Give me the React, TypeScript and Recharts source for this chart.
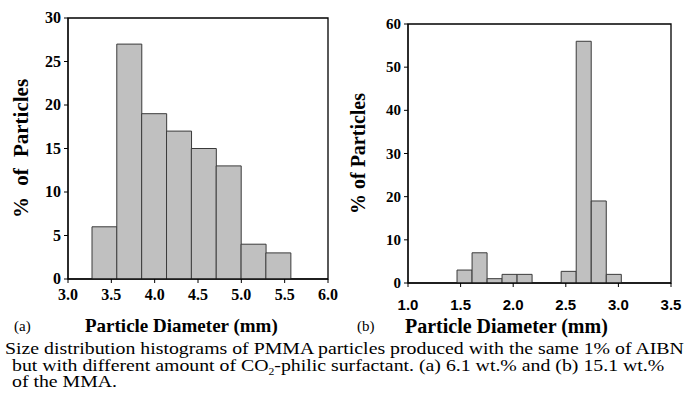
import { Bar, BarChart, ReferenceArea, XAxis, YAxis } from "recharts"

// panel (a): 6.1 wt.% surfactant
const sizesA = [3.42, 3.706, 3.993, 4.28, 4.566, 4.853, 5.14, 5.426]
const percentA = [6, 27, 19, 17, 15, 13, 4, 3]
const xTicksA = [3, 3.5, 4, 4.5, 5, 5.5, 6]
const yTicksA = [0, 5, 10, 15, 20, 25, 30]

// panel (b): 15.1 wt.% surfactant
const sizesB = [1.537, 1.68, 1.823, 1.965, 2.108, 2.527, 2.67, 2.813, 2.956]
const percentB = [3, 7, 1, 2, 2, 2.7, 56, 19, 2]
const xTicksB = [1, 1.5, 2, 2.5, 3, 3.5]
const yTicksB = [0, 10, 20, 30, 40, 50, 60]

const serif = "Liberation Serif"
const sans = "Liberation Sans"

type HistProps = {
  sizes: number[]
  percent: number[]
  xTicks: number[]
  yTicks: number[]
  width: number
  height: number
  margin: { top: number; right: number; left: number; bottom: number }
  yAxisWidth: number
  xAxisHeight: number
  xTickFamily: string
  xTickSize: number
  xTickMargin: number
  yTickSize: number
  yLabelX: number
  yLabelSize: number
  yLabelSpacing: number
}

function Histogram(p: HistProps) {
  const data = p.sizes.map((s, i) => ({ size: s, pct: p.percent[i] }))
  const xMin = p.xTicks[0]
  const xMax = p.xTicks[p.xTicks.length - 1]
  const yMax = p.yTicks[p.yTicks.length - 1]

  return (
    <BarChart
      width={p.width}
      height={p.height}
      data={data}
      margin={p.margin}
      barCategoryGap={0}
      barGap={0}
    >
      <XAxis
        dataKey="size"
        type="number"
        domain={[xMin, xMax]}
        ticks={p.xTicks}
        allowDecimals
        height={p.xAxisHeight}
        stroke="#000"
        tickSize={4}
        tickMargin={p.xTickMargin}
        tick={(tp: any) => (
          <text
            x={tp.x}
            y={tp.y}
            dy="0.72em"
            textAnchor="middle"
            fontFamily={p.xTickFamily}
            fontWeight={700}
            fontSize={p.xTickSize}
            fill="#000"
          >
            {Number(tp.payload.value).toFixed(1)}
          </text>
        )}
      />
      <YAxis
        domain={[0, yMax]}
        ticks={p.yTicks}
        width={p.yAxisWidth}
        stroke="#000"
        tickSize={4}
        tickMargin={3}
        tick={(tp: any) => (
          <text
            x={tp.x}
            y={tp.y}
            dy="0.34em"
            textAnchor="end"
            fontFamily={serif}
            fontWeight={700}
            fontSize={p.yTickSize}
            fill="#000"
          >
            {tp.payload.value}
          </text>
        )}
        label={(lp: any) => {
          const vb = lp.viewBox
          const cy = vb.y + vb.height / 2
          return (
            <text
              x={p.yLabelX}
              y={cy}
              transform={`rotate(-90 ${p.yLabelX} ${cy})`}
              textAnchor="middle"
              dominantBaseline="central"
              fontFamily={serif}
              fontWeight={700}
              fontSize={p.yLabelSize}
              wordSpacing={p.yLabelSpacing}
              fill="#000"
            >
              % of Particles
            </text>
          )
        }}
      />
      <ReferenceArea
        x1={xMin}
        x2={xMax}
        y1={0}
        y2={yMax}
        fill="none"
        stroke="#000"
        strokeWidth={1.3}
      />
      <Bar
        dataKey="pct"
        fill="#c0c0c0"
        stroke="#3a3a3a"
        strokeWidth={1}
        isAnimationActive={false}
      />
    </BarChart>
  )
}

export default function App() {
  return (
    <div
      style={{
        position: "absolute",
        left: 0,
        top: 0,
        width: 698,
        height: 400,
        background: "#fff",
        fontFamily: serif,
        color: "#000"
      }}
    >
      <div style={{ position: "absolute", left: 0, top: 0 }}>
        <Histogram
          sizes={sizesA}
          percent={percentA}
          xTicks={xTicksA}
          yTicks={yTicksA}
          width={345}
          height={305}
          margin={{ top: 18, right: 17, left: 0, bottom: 0 }}
          yAxisWidth={68}
          xAxisHeight={26}
          xTickFamily={serif}
          xTickSize={16}
          xTickMargin={5}
          yTickSize={16}
          yLabelX={21}
          yLabelSize={21}
          yLabelSpacing={6}
        />
      </div>
      <div style={{ position: "absolute", left: 340, top: 0 }}>
        <Histogram
          sizes={sizesB}
          percent={percentB}
          xTicks={xTicksB}
          yTicks={yTicksB}
          width={345}
          height={320}
          margin={{ top: 24, right: 14, left: 0, bottom: 0 }}
          yAxisWidth={68}
          xAxisHeight={37}
          xTickFamily={sans}
          xTickSize={15}
          xTickMargin={12}
          yTickSize={15}
          yLabelX={18}
          yLabelSize={20}
          yLabelSpacing={0}
        />
      </div>

      <div style={{ position: "absolute", left: 14, top: 318, fontSize: 15 }}>(a)</div>
      <div style={{ position: "absolute", left: 85, top: 315, fontSize: 19, fontWeight: 700 }}>
        Particle Diameter (mm)
      </div>
      <div style={{ position: "absolute", left: 357, top: 318, fontSize: 15 }}>(b)</div>
      <div style={{ position: "absolute", left: 405, top: 315, fontSize: 20, fontWeight: 700 }}>
        Particle Diameter (mm)
      </div>

      <div
        style={{
          position: "absolute",
          left: 5,
          top: 341,
          fontSize: 17,
          lineHeight: "16.5px",
          whiteSpace: "nowrap",
          transform: "scaleX(1.165)",
          transformOrigin: "left top"
        }}
      >
        <div>Size distribution histograms of PMMA particles produced with the same 1% of AIBN</div>
        <div style={{ paddingLeft: 6 }}>
          but with different amount of CO<sub style={{ fontSize: 10, lineHeight: 0 }}>2</sub>-philic surfactant. (a) 6.1 wt.% and (b) 15.1 wt.%
        </div>
        <div style={{ paddingLeft: 6 }}>of the MMA.</div>
      </div>
    </div>
  )
}
